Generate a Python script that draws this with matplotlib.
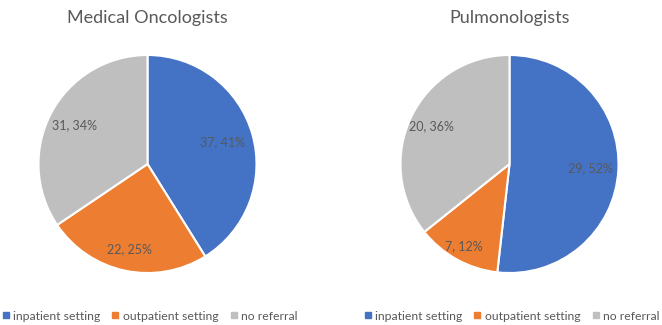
import matplotlib
matplotlib.use("Agg")
import matplotlib.pyplot as plt
import numpy as np
from matplotlib.lines import Line2D

categories = ["inpatient setting", "outpatient setting", "no referral"]
titles = ["Medical Oncologists", "Pulmonologists"]
onc_values = [37, 22, 31]
onc_pcts = [41, 25, 34]
pul_values = [29, 7, 20]
pul_pcts = [52, 12, 36]

colors = ["#4472C4", "#ED7D31", "#BFBFBF"]
text_color = "#595959"
font = "Lato"

W, H = 662, 325
fig = plt.figure(figsize=(W / 100, H / 100), dpi=100)

R = 109
centers = [(147.5, 164), (509.5, 164)]
label_dist = [[0.72, 0.80, 0.76], [0.74, 0.86, 0.79]]
datasets = [(onc_values, onc_pcts), (pul_values, pul_pcts)]

for i, ((vals, pcts), (cx, cy)) in enumerate(zip(datasets, centers)):
    ax = fig.add_axes([(cx - R) / W, (H - cy - R) / H, 2 * R / W, 2 * R / H])
    wedges, _ = ax.pie(vals, colors=colors, startangle=90, counterclock=False,
                       radius=1, wedgeprops=dict(edgecolor="white", linewidth=1.5))
    for w, v, p, d in zip(wedges, vals, pcts, label_dist[i]):
        ang = np.deg2rad((w.theta1 + w.theta2) / 2)
        ax.text(d * np.cos(ang), d * np.sin(ang), f"{v}, {p}%", ha="center", va="center",
                fontsize=9, color=text_color, family=font)
    ax.set_xlim(-1, 1)
    ax.set_ylim(-1, 1)
    ax.set_aspect("equal")
    ax.axis("off")
    fig.text(cx / W, 1 - 18 / H, titles[i], ha="center", va="center",
             fontsize=13, color=text_color, family=font)

handles = [Line2D([], [], marker="s", linestyle="none", markersize=3.8,
                  markerfacecolor=c, markeredgecolor=c) for c in colors]
for lx in [0 / W, 362 / W]:
    leg = fig.legend(handles, categories, loc="center left", bbox_to_anchor=(lx, 9 / H),
                     ncol=3, frameon=False, handlelength=0.5, handletextpad=0.35,
                     columnspacing=1.0, borderpad=0.2, borderaxespad=0,
                     prop={"family": font, "size": 8.8})
    for t in leg.get_texts():
        t.set_color(text_color)

fig.savefig("out.png", dpi=100, facecolor="white")
